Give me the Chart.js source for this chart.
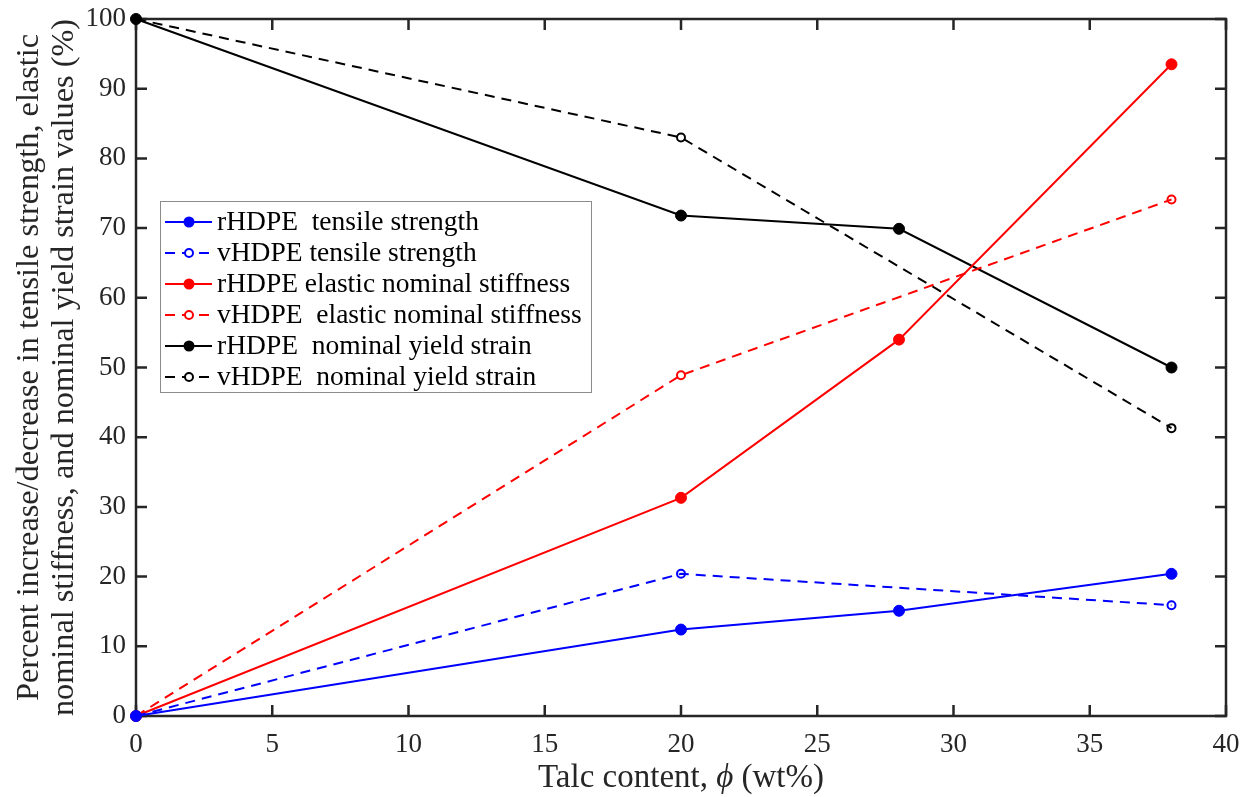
<!DOCTYPE html>
<html>
<head>
<meta charset="utf-8">
<title>Talc content vs property change</title>
<script src="https://cdn.jsdelivr.net/npm/chart.js@4/dist/chart.umd.min.js"></script>
<style>
  html, body { margin: 0; padding: 0; background: #fff; }
  #wrap { width: 1251px; height: 797px; position: relative; }
</style>
</head>
<body>
<div id="wrap"><canvas id="chart"></canvas></div>
<script>
"use strict";

// talc loadings (wt%) for recycled and virgin HDPE
var talcR = [0, 20, 28, 38];
var talcV = [0, 20, 38];

// percent change values
var rTensile = [0, 12.4, 15.1, 20.4];
var vTensile = [0, 20.4, 15.9];
var rStiffness = [0, 31.3, 54.0, 93.5];
var vStiffness = [0, 48.9, 74.1];
var rYield = [100, 71.8, 69.9, 50.0];
var vYield = [100, 83.0, 41.3];

var xTicks = [0, 5, 10, 15, 20, 25, 30, 35, 40];
var yTicks = [0, 10, 20, 30, 40, 50, 60, 70, 80, 90, 100];

var FONT = "'Liberation Serif', 'Times New Roman', serif";
var INK = "#262626";

function points(xs, ys) {
    return xs.map(function (x, i) { return { x: x, y: ys[i] }; });
}

function series(label, xs, ys, color, dashed) {
    return {
        label: label,
        data: points(xs, ys),
        borderColor: color,
        backgroundColor: dashed ? "rgba(0,0,0,0)" : color,
        pointBorderColor: color,
        pointBackgroundColor: dashed ? "rgba(0,0,0,0)" : color,
        borderWidth: 2,
        borderDash: dashed ? [10, 7] : [],
        pointRadius: dashed ? 4 : 5.5,
        pointBorderWidth: dashed ? 2 : 1,
        tension: 0,
        clip: false
    };
}

var datasets = [
    series("rHDPE  tensile strength", talcR, rTensile, "#0000ff", false),
    series("vHDPE tensile strength", talcV, vTensile, "#0000ff", true),
    series("rHDPE elastic nominal stiffness", talcR, rStiffness, "#ff0000", false),
    series("vHDPE  elastic nominal stiffness", talcV, vStiffness, "#ff0000", true),
    series("rHDPE  nominal yield strain", talcR, rYield, "#000000", false),
    series("vHDPE  nominal yield strain", talcV, vYield, "#000000", true)
];

// box around the plot with inward ticks on all four sides
var frame = {
    id: "frame",
    beforeDatasetsDraw: function (chart) {
        var ctx = chart.ctx;
        var a = chart.chartArea;
        var xs = chart.scales.x, ys = chart.scales.y;
        var len = 11;
        ctx.save();
        ctx.strokeStyle = INK;
        ctx.lineWidth = 2.5;
        ctx.strokeRect(a.left, a.top, a.right - a.left, a.bottom - a.top);
        ctx.beginPath();
        xTicks.forEach(function (v) {
            var px = xs.getPixelForValue(v);
            ctx.moveTo(px, a.bottom); ctx.lineTo(px, a.bottom - len);
            ctx.moveTo(px, a.top); ctx.lineTo(px, a.top + len);
        });
        yTicks.forEach(function (v) {
            var py = ys.getPixelForValue(v);
            ctx.moveTo(a.left, py); ctx.lineTo(a.left + len, py);
            ctx.moveTo(a.right, py); ctx.lineTo(a.right - len, py);
        });
        ctx.stroke();
        ctx.restore();
    },
    afterDraw: function (chart) {
        // x axis title with an italic phi
        var ctx = chart.ctx;
        var a = chart.chartArea;
        var size = "33px ";
        var parts = [
            { t: "Talc content, ", f: size + FONT },
            { t: "\u03D5", f: "italic " + size + FONT },
            { t: " (wt%)", f: size + FONT }
        ];
        ctx.save();
        ctx.fillStyle = INK;
        ctx.textBaseline = "alphabetic";
        var total = 0;
        parts.forEach(function (p) { ctx.font = p.f; p.w = ctx.measureText(p.t).width; total += p.w; });
        var x = (a.left + a.right) / 2 - total / 2;
        parts.forEach(function (p) {
            ctx.font = p.f;
            ctx.fillText(p.t, x, 787);
            x += p.w;
        });
        ctx.restore();
    }
};

// legend box in the upper left of the plot
var boxLegend = {
    id: "boxLegend",
    afterDatasetsDraw: function (chart) {
        var ctx = chart.ctx;
        var left = 160, top = 201, width = 431, height = 191;
        var rowH = 31, firstRow = 222;
        ctx.save();
        ctx.fillStyle = "#fff";
        ctx.fillRect(left, top, width, height);
        ctx.strokeStyle = "#8c8c8c";
        ctx.lineWidth = 1;
        ctx.strokeRect(left + 0.5, top + 0.5, width, height);
        chart.data.datasets.forEach(function (ds, i) {
            var y = firstRow + i * rowH;
            ctx.strokeStyle = ds.borderColor;
            ctx.lineWidth = 2;
            ctx.setLineDash(ds.borderDash);
            ctx.beginPath();
            ctx.moveTo(165, y);
            ctx.lineTo(212, y);
            ctx.stroke();
            ctx.setLineDash([]);
            ctx.beginPath();
            ctx.arc(189, y, ds.pointRadius, 0, Math.PI * 2);
            if (ds.borderDash.length) {
                ctx.fillStyle = "#fff";
                ctx.fill();
                ctx.lineWidth = 2;
                ctx.stroke();
            } else {
                ctx.fillStyle = ds.borderColor;
                ctx.fill();
            }
            ctx.fillStyle = "#000";
            ctx.font = "27.5px " + FONT;
            ctx.textBaseline = "middle";
            ctx.fillText(ds.label, 217, y + 1);
        });
        ctx.restore();
    }
};

var config = {
    type: "line",
    data: { datasets: datasets },
    plugins: [frame, boxLegend],
    options: {
        responsive: true,
        maintainAspectRatio: false,
        animation: false,
        layout: { padding: { top: 19, right: 25, left: 0, bottom: 0 } },
        plugins: {
            legend: { display: false },
            tooltip: { enabled: false }
        },
        scales: {
            x: {
                type: "linear",
                min: 0,
                max: 40,
                afterBuildTicks: function (scale) {
                    scale.ticks = xTicks.map(function (v) { return { value: v }; });
                },
                afterFit: function (scale) {
                    scale.height = 81;
                    scale.paddingLeft = 0;
                    scale.paddingRight = 0;
                },
                grid: { display: false, drawTicks: false },
                border: { display: false },
                ticks: {
                    padding: 13,
                    color: INK,
                    maxRotation: 0,
                    font: { family: FONT, size: 27 }
                }
            },
            y: {
                type: "linear",
                min: 0,
                max: 100,
                afterBuildTicks: function (scale) {
                    scale.ticks = yTicks.map(function (v) { return { value: v }; });
                },
                afterFit: function (scale) {
                    scale.width = 136;
                    scale.paddingTop = 0;
                    scale.paddingBottom = 0;
                },
                grid: { display: false, drawTicks: false },
                border: { display: false },
                ticks: {
                    padding: 10,
                    color: INK,
                    font: { family: FONT, size: 27 }
                },
                title: {
                    display: true,
                    text: [
                        "Percent increase/decrease in tensile strength, elastic",
                        "nominal stiffness, and nominal yield strain values (%)"
                    ],
                    color: INK,
                    padding: { top: 12, bottom: 0 },
                    font: { family: FONT, size: 32.3, lineHeight: 1.08 }
                }
            }
        }
    }
};

new Chart(document.getElementById("chart"), config);
</script>
</body>
</html>
